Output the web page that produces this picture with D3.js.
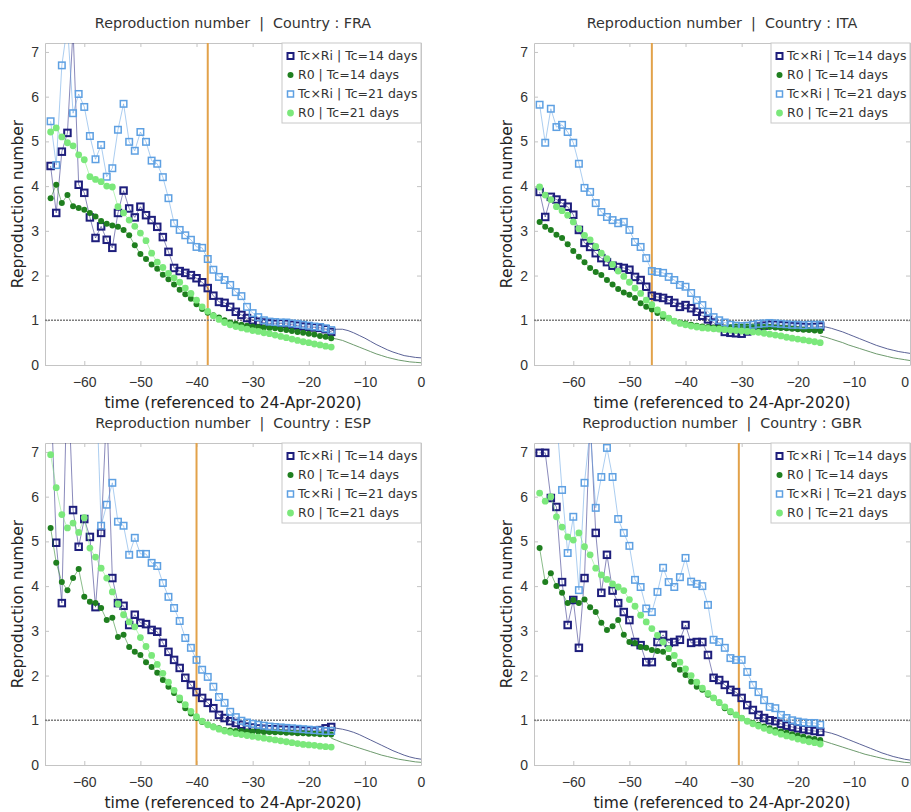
<!DOCTYPE html>
<html>
<head>
<meta charset="utf-8">
<script src="https://cdn.jsdelivr.net/npm/d3@7"></script>
<style>
  body { margin: 0; background: #fff; }
  svg { font-family: "DejaVu Sans", Verdana, sans-serif; }
  .frame path, .frame line { stroke: #c4c4c4; }
  .title { fill: #333; font-size: 14.3px; white-space: pre; }
  .label { fill: #222; font-size: 15.5px; }
  .legend text { fill: #333; font-size: 12.5px; }
</style>
</head>
<body>
<div class="chart"></div>
<script>
// days (referenced to 24-Apr-2020)
const days = [-66, -65, -64, -63, -62, -61, -60, -59, -58, -57,
  -56, -55, -54, -53, -52, -51, -50, -49, -48, -47,
  -46, -45, -44, -43, -42, -41, -40, -39, -38, -37,
  -36, -35, -34, -33, -32, -31, -30, -29, -28, -27,
  -26, -25, -24, -23, -22, -21, -20, -19, -18, -17, -16];
const projDays = [-16, -15, -14, -13, -12, -11, -10, -9, -8, -7, -6, -5, -4, -3, -2, -1, 0];

const countries = ["FRA", "ITA", "ESP", "GBR"];
const markerDays = [-38, -46, -40, -30.5];
const seriesLabels = ["Tc\u00d7Ri | Tc=14 days", "R0 | Tc=14 days", "Tc\u00d7Ri | Tc=21 days", "R0 | Tc=21 days"];
const xTicks = [-60, -50, -40, -30, -20, -10, 0];
const yTicks = [0, 1, 2, 3, 4, 5, 6, 7];

// FRA
const fraTcRi14 = [4.45, 3.4, 4.77, 5.19, 7.5, 4.03, 3.85, 3.3, 2.84, 3.1,
  2.8, 2.62, 3.4, 3.9, 3.5, 3.3, 3.54, 3.35, 3.24, 3.09,
  2.86, 2.53, 2.17, 2.1, 2.06, 2.01, 1.94, 1.85, 1.72, 1.55,
  1.41, 1.39, 1.3, 1.19, 1.12, 1.05, 1.0, 0.97, 0.95, 0.93,
  0.92, 0.93, 0.92, 0.9, 0.88, 0.86, 0.85, 0.84, 0.83, 0.8, 0.74];
const fraR014 = [3.73, 4.03, 3.62, 3.8, 3.55, 3.51, 3.47, 3.4, 3.32, 3.22,
  3.16, 3.12, 3.09, 3.02, 2.9, 2.68, 2.48, 2.37, 2.25, 2.15,
  2.02, 1.92, 1.8, 1.68, 1.58, 1.48, 1.36, 1.25, 1.17, 1.11,
  1.06, 1.0, 0.95, 0.92, 0.9, 0.88, 0.86, 0.85, 0.84, 0.83,
  0.82, 0.8, 0.78, 0.76, 0.74, 0.72, 0.7, 0.68, 0.65, 0.63, 0.6];
const fraTcRi21 = [5.45, 4.47, 6.7, 7.6, 5.63, 6.06, 5.77, 5.12, 4.6, 4.92,
  4.21, 4.4, 5.26, 5.84, 4.99, 4.79, 5.21, 4.99, 4.57, 4.5,
  4.2, 3.73, 3.17, 3.02, 2.9, 2.8, 2.64, 2.62, 2.37, 2.13,
  1.97, 1.9, 1.79, 1.63, 1.54, 1.3, 1.16, 1.07, 1.0, 0.97,
  0.96, 0.95, 0.95, 0.93, 0.92, 0.9, 0.88, 0.86, 0.85, 0.82, 0.78];
const fraR021 = [5.21, 5.3, 5.1, 4.97, 4.9, 4.7, 4.59, 4.21, 4.15, 4.1,
  4.0, 3.98, 3.54, 3.4, 3.24, 3.1, 2.95, 2.78, 2.5, 2.3,
  2.18, 2.05, 1.95, 1.85, 1.72, 1.6, 1.45, 1.3, 1.2, 1.1,
  1.02, 0.95, 0.9, 0.86, 0.83, 0.8, 0.77, 0.75, 0.72, 0.7,
  0.67, 0.64, 0.61, 0.58, 0.55, 0.52, 0.5, 0.47, 0.45, 0.42, 0.4];
const fraProjTcRi = [0.76, 0.8, 0.8, 0.77, 0.72, 0.66, 0.6, 0.53, 0.46, 0.4, 0.34, 0.29, 0.25, 0.21, 0.19, 0.17, 0.16];
const fraProjR0 = [0.6, 0.58, 0.55, 0.5, 0.45, 0.4, 0.35, 0.3, 0.25, 0.21, 0.17, 0.14, 0.11, 0.09, 0.07, 0.06, 0.05];

// ITA
const itaTcRi14 = [3.87, 3.31, 3.76, 3.7, 3.62, 3.54, 3.36, 3.02, 2.73, 2.64,
  2.5, 2.39, 2.3, 2.22, 2.19, 2.17, 2.13, 1.97, 1.9, 1.75,
  1.55, 1.52, 1.5, 1.45, 1.39, 1.3, 1.34, 1.27, 1.19, 1.1,
  1.02, 0.95, 0.85, 0.74, 0.72, 0.71, 0.7, 0.75, 0.82, 0.86,
  0.88, 0.9, 0.9, 0.89, 0.88, 0.87, 0.86, 0.85, 0.84, 0.85, 0.86];
const itaR014 = [3.2, 3.09, 3.02, 2.91, 2.84, 2.7, 2.55, 2.42, 2.3, 2.17,
  2.08, 2.01, 1.9, 1.8, 1.7, 1.62, 1.57, 1.5, 1.38, 1.3,
  1.24, 1.16, 1.08, 1.05, 0.98, 0.95, 0.93, 0.9, 0.88, 0.86,
  0.85, 0.84, 0.84, 0.84, 0.85, 0.86, 0.86, 0.86, 0.86, 0.86,
  0.85, 0.85, 0.84, 0.83, 0.82, 0.81, 0.8, 0.79, 0.78, 0.77, 0.76];
const itaTcRi21 = [5.82, 4.97, 5.73, 5.32, 5.37, 5.21, 4.97, 4.5, 3.96, 3.87,
  3.62, 3.42, 3.31, 3.24, 3.17, 3.2, 3.02, 2.75, 2.64, 2.39,
  2.1, 2.08, 2.06, 1.97, 1.9, 1.79, 1.75, 1.61, 1.45, 1.34,
  1.19, 1.07, 1.0, 0.95, 0.9, 0.88, 0.87, 0.88, 0.9, 0.92,
  0.93, 0.94, 0.93, 0.92, 0.91, 0.9, 0.9, 0.89, 0.9, 0.9, 0.9];
const itaR021 = [3.98, 3.8, 3.7, 3.54, 3.45, 3.35, 3.2, 3.05, 2.9, 2.8,
  2.65, 2.5, 2.38, 2.25, 2.1, 1.98, 1.85, 1.72, 1.6, 1.45,
  1.35, 1.23, 1.13, 1.05, 0.98, 0.93, 0.9, 0.87, 0.85, 0.83,
  0.82, 0.81, 0.8, 0.79, 0.78, 0.77, 0.76, 0.75, 0.74, 0.73,
  0.71, 0.69, 0.67, 0.65, 0.62, 0.6, 0.58, 0.56, 0.54, 0.52, 0.5];
const itaProjTcRi = [0.86, 0.85, 0.82, 0.78, 0.74, 0.69, 0.64, 0.59, 0.54, 0.49, 0.44, 0.4, 0.36, 0.33, 0.3, 0.28, 0.26];
const itaProjR0 = [0.65, 0.62, 0.58, 0.54, 0.5, 0.45, 0.41, 0.37, 0.33, 0.29, 0.25, 0.22, 0.19, 0.16, 0.14, 0.12, 0.1];

// ESP
const espTcRi14 = [8.5, 4.97, 3.62, 9.0, 5.7, 4.88, 5.5, 5.1, 3.53, 5.19,
  8.0, 4.18, 3.62, 3.56, 3.13, 3.36, 3.18, 3.15, 3.02, 2.98,
  2.73, 2.53, 2.35, 2.17, 1.95, 1.79, 1.63, 1.5, 1.39, 1.27,
  1.12, 1.05, 0.98, 0.94, 0.9, 0.86, 0.84, 0.82, 0.81, 0.8,
  0.8, 0.79, 0.79, 0.78, 0.78, 0.77, 0.77, 0.76, 0.78, 0.82, 0.85];
const espR014 = [5.3, 4.52, 4.09, 3.91, 4.18, 4.38, 3.76, 3.65, 3.62, 3.51,
  3.24, 3.29, 2.86, 2.91, 2.64, 2.53, 2.46, 2.3, 2.19, 2.06,
  1.9, 1.75, 1.61, 1.45, 1.27, 1.15, 1.05, 0.96, 0.9, 0.86,
  0.82, 0.78, 0.77, 0.76, 0.76, 0.75, 0.75, 0.75, 0.74, 0.74,
  0.73, 0.73, 0.72, 0.72, 0.71, 0.71, 0.7, 0.7, 0.69, 0.69, 0.68];
const espTcRi21 = [7.4, 9.0, 8.6, 8.8, 9.0, 8.6, 8.8, 9.0, 9.0, 5.35,
  5.82, 6.31, 5.44, 5.35, 4.7, 5.08, 4.72, 4.72, 4.52, 4.45,
  4.07, 3.76, 3.51, 3.22, 2.84, 2.62, 2.35, 2.13, 1.97, 1.75,
  1.52, 1.39, 1.19, 1.07, 0.99, 0.95, 0.92, 0.9, 0.88, 0.86,
  0.85, 0.84, 0.83, 0.82, 0.81, 0.8, 0.79, 0.78, 0.77, 0.76, 0.76];
const espR021 = [6.94, 6.2, 5.6, 5.3, 5.41, 5.2, 5.53, 4.85, 4.65, 4.4,
  4.18, 3.87, 3.6, 3.36, 3.2, 3.09, 2.85, 2.65, 2.45, 2.25,
  2.05, 1.85, 1.67, 1.5, 1.35, 1.2, 1.08, 0.98, 0.9, 0.85,
  0.8, 0.76, 0.73, 0.7, 0.68, 0.66, 0.64, 0.62, 0.6, 0.58,
  0.56, 0.54, 0.52, 0.5, 0.48, 0.46, 0.45, 0.44, 0.42, 0.41, 0.4];
const espProjTcRi = [0.85, 0.82, 0.8, 0.77, 0.73, 0.68, 0.62, 0.56, 0.5, 0.44, 0.38, 0.32, 0.27, 0.22, 0.18, 0.15, 0.13];
const espProjR0 = [0.6, 0.55, 0.5, 0.46, 0.42, 0.38, 0.34, 0.3, 0.26, 0.22, 0.19, 0.16, 0.13, 0.11, 0.09, 0.07, 0.06];

// GBR
const gbrTcRi14 = [6.98, 6.98, 5.97, 5.77, 4.09, 3.13, 3.69, 2.62, 4.18, 7.8,
  5.19, 3.85, 4.7, 3.9, 3.62, 3.42, 3.24, 2.75, 2.68, 2.3,
  2.3, 2.75, 2.91, 2.73, 2.75, 2.8, 3.13, 2.73, 2.75, 2.75,
  2.46, 1.95, 1.9, 1.79, 1.68, 1.63, 1.5, 1.34, 1.23, 1.12,
  1.05, 1.0, 0.98, 0.92, 0.88, 0.85, 0.82, 0.8, 0.78, 0.76, 0.74];
const gbrR014 = [4.85, 4.09, 4.29, 4.0, 3.85, 3.62, 3.69, 3.62, 3.7, 3.53,
  3.42, 3.18, 3.02, 3.1, 3.24, 2.91, 2.75, 2.73, 2.64, 2.62,
  2.57, 2.55, 2.53, 2.39, 2.24, 2.13, 2.01, 1.86, 1.75, 1.68,
  1.57, 1.5, 1.39, 1.27, 1.18, 1.12, 1.05, 0.98, 0.94, 0.9,
  0.86, 0.82, 0.78, 0.75, 0.72, 0.69, 0.66, 0.63, 0.6, 0.58, 0.56];
const gbrTcRi21 = [7.5, 7.3, 7.6, 7.8, 6.15, 4.74, 5.55, 3.91, 6.31, 7.5,
  5.75, 6.44, 7.09, 6.44, 5.5, 5.19, 4.9, 4.14, 3.98, 3.5,
  3.42, 3.87, 4.41, 4.09, 3.98, 4.2, 4.63, 4.1, 4.05, 4.0,
  3.58, 2.8, 2.75, 2.62, 2.39, 2.35, 2.35, 2.08, 1.79, 1.63,
  1.45, 1.3, 1.27, 1.12, 1.05, 1.0, 0.97, 0.95, 0.94, 0.94, 0.9];
const gbrR021 = [6.08, 5.9, 6.0, 5.55, 5.32, 5.1, 5.03, 5.19, 4.88, 4.7,
  4.4, 4.25, 4.15, 4.05, 3.98, 3.9, 3.7, 3.55, 3.35, 3.2,
  3.05, 2.9, 2.75, 2.6, 2.45, 2.3, 2.15, 2.0, 1.85, 1.72,
  1.6, 1.5, 1.4, 1.3, 1.2, 1.12, 1.05, 0.98, 0.92, 0.87,
  0.82, 0.77, 0.73, 0.69, 0.65, 0.62, 0.58, 0.55, 0.52, 0.5, 0.47];
const gbrProjTcRi = [0.76, 0.74, 0.71, 0.67, 0.62, 0.57, 0.52, 0.47, 0.42, 0.37, 0.32, 0.27, 0.23, 0.19, 0.16, 0.13, 0.11];
const gbrProjR0 = [0.56, 0.52, 0.48, 0.44, 0.4, 0.36, 0.32, 0.28, 0.24, 0.21, 0.18, 0.15, 0.12, 0.1, 0.08, 0.06, 0.05];

const countryData = {
  FRA: { series: [fraTcRi14, fraR014, fraTcRi21, fraR021], proj: [fraProjTcRi, fraProjR0] },
  ITA: { series: [itaTcRi14, itaR014, itaTcRi21, itaR021], proj: [itaProjTcRi, itaProjR0] },
  ESP: { series: [espTcRi14, espR014, espTcRi21, espR021], proj: [espProjTcRi, espProjR0] },
  GBR: { series: [gbrTcRi14, gbrR014, gbrTcRi21, gbrR021], proj: [gbrProjTcRi, gbrProjR0] },
};

const seriesStyles = [
  { color: "#1e1e7c", shape: "square", size: 6.5, stroke: 2 },
  { color: "#1f7f1f", shape: "circle", r: 3 },
  { color: "#5ea0e2", shape: "square", size: 6.5, stroke: 1.5 },
  { color: "#7be87b", shape: "circle", r: 3.4 },
];
const projColors = ["#47508a", "#5c8f5c"];

class ReproductionPanel {
  constructor(svg, country, origin, markerDay, atRightEdge) {
    this.svg = svg;
    this.country = country;
    this.data = countryData[country];
    this.markerDay = markerDay;
    this.origin = origin;
    this.atRightEdge = atRightEdge;
    this.width = 376;
    this.height = 322;
    this.setupAxes();
    this.drawSeries();
    this.drawLegend();
  }

  setupAxes() {
    this.g = this.svg.append("g")
      .attr("transform", `translate(${this.origin[0]}, ${this.origin[1]})`);

    this.xScale = d3.scaleLinear().domain([-67, 0]).range([0, this.width]);
    this.yScale = d3.scaleLinear().domain([0, 7.2]).range([this.height, 0]);

    this.g.append("clipPath")
      .attr("id", `clip-${this.country}`)
      .append("rect")
      .attr("width", this.width)
      .attr("height", this.height);

    //Title
    this.g.append("text")
      .attr("class", "title")
      .attr("x", this.width / 2)
      .attr("y", -15)
      .attr("text-anchor", "middle")
      .text(`Reproduction number  |  Country : ${this.country}`);

    //Axes with inward ticks, box on all four sides
    const xAxis = d3.axisBottom(this.xScale).tickValues(xTicks).tickSizeInner(-4).tickSizeOuter(0).tickPadding(12);
    const yAxis = d3.axisLeft(this.yScale).tickValues(yTicks).tickSizeInner(-4).tickSizeOuter(0).tickPadding(6);
    const xTop = d3.axisTop(this.xScale).tickValues(xTicks).tickSizeInner(-4).tickSizeOuter(0).tickFormat("");
    const yRight = d3.axisRight(this.yScale).tickValues(yTicks).tickSizeInner(-4).tickSizeOuter(0).tickFormat("");

    const xAxisGroup = this.g.append("g").attr("class", "frame")
      .attr("transform", `translate(0, ${this.height})`)
      .call(xAxis);
    this.g.append("g").attr("class", "frame").call(yAxis);
    this.g.append("g").attr("class", "frame").call(xTop);
    this.g.append("g").attr("class", "frame")
      .attr("transform", `translate(${this.width}, 0)`)
      .call(yRight);
    this.g.selectAll(".frame text")
      .attr("font-family", null)
      .attr("font-size", null)
      .style("font-size", "14px")
      .style("fill", "#333");

    //Keep the last label inside the page for panels on the right edge
    if (this.atRightEdge) {
      xAxisGroup.selectAll(".tick text")
        .filter(d => d === 0)
        .attr("text-anchor", "end")
        .attr("dx", -1.5);
    }

    //Axis labels
    this.g.append("text")
      .attr("class", "label")
      .attr("x", this.width / 2)
      .attr("y", this.height + 43)
      .attr("text-anchor", "middle")
      .text("time (referenced to 24-Apr-2020)");

    this.g.append("text")
      .attr("class", "label")
      .attr("text-anchor", "middle")
      .attr("transform", `translate(-22, ${this.height / 2}) rotate(-90)`)
      .text("Reproduction number");

    //Date marker and R = 1 reference
    this.g.append("line")
      .attr("x1", this.xScale(this.markerDay))
      .attr("x2", this.xScale(this.markerDay))
      .attr("y1", 0)
      .attr("y2", this.height)
      .attr("stroke", "#e2a24a")
      .attr("stroke-width", 2);

    this.g.append("line")
      .attr("x1", 0)
      .attr("x2", this.width)
      .attr("y1", this.yScale(1))
      .attr("y2", this.yScale(1))
      .attr("stroke", "#7d7d7d")
      .attr("stroke-width", 1.4)
      .attr("stroke-dasharray", "2,1");
  }

  drawSeries() {
    const plot = this.g.append("g").attr("clip-path", `url(#clip-${this.country})`);
    const line = d3.line()
      .x(d => this.xScale(d[0]))
      .y(d => this.yScale(d[1]));

    //Projection curves
    this.data.proj.forEach((values, k) => {
      plot.append("path")
        .datum(projDays.map((d, i) => [d, values[i]]))
        .attr("fill", "none")
        .attr("stroke", projColors[k])
        .attr("stroke-width", 0.9)
        .attr("d", line);
    });

    this.data.series.forEach((values, k) => {
      const style = seriesStyles[k];
      const points = days.map((d, i) => [d, values[i]]);

      plot.append("path")
        .datum(points)
        .attr("fill", "none")
        .attr("stroke", style.color)
        .attr("stroke-opacity", 0.75)
        .attr("stroke-width", 0.7)
        .attr("d", line);

      if (style.shape === "square") {
        plot.selectAll(null)
          .data(points)
          .join("rect")
          .attr("x", d => this.xScale(d[0]) - style.size / 2)
          .attr("y", d => this.yScale(d[1]) - style.size / 2)
          .attr("width", style.size)
          .attr("height", style.size)
          .attr("fill", "none")
          .attr("stroke", style.color)
          .attr("stroke-width", style.stroke);
      } else {
        plot.selectAll(null)
          .data(points)
          .join("circle")
          .attr("cx", d => this.xScale(d[0]))
          .attr("cy", d => this.yScale(d[1]))
          .attr("r", style.r)
          .attr("fill", style.color);
      }
    });
  }

  drawLegend() {
    const legendWidth = 139, rowHeight = 19;
    const legend = this.g.append("g")
      .attr("class", "legend")
      .attr("transform", `translate(${this.width - legendWidth}, 0)`);

    legend.append("rect")
      .attr("width", legendWidth)
      .attr("height", rowHeight * seriesLabels.length + 4)
      .attr("fill", "#fff")
      .attr("stroke", "#c8c8c8");

    seriesLabels.forEach((label, k) => {
      const style = seriesStyles[k];
      const row = legend.append("g")
        .attr("transform", `translate(0, ${13 + k * rowHeight})`);
      if (style.shape === "square") {
        row.append("rect")
          .attr("x", 5.5).attr("y", -3)
          .attr("width", 6).attr("height", 6)
          .attr("fill", "none")
          .attr("stroke", style.color)
          .attr("stroke-width", style.stroke);
      } else {
        row.append("circle")
          .attr("cx", 8.5).attr("cy", 0)
          .attr("r", style.r)
          .attr("fill", style.color);
      }
      row.append("text")
        .attr("x", 16)
        .attr("dy", "0.35em")
        .text(label);
    });
  }
}

const svg = d3.select(".chart")
  .append("svg")
  .attr("width", 911)
  .attr("height", 812)
  .attr("viewBox", "0 0 911 812");

const origins = [[45, 43], [534, 43], [45, 443], [534, 443]];
countries.forEach((c, i) => new ReproductionPanel(svg, c, origins[i], markerDays[i], i % 2 === 1));
</script>
</body>
</html>
